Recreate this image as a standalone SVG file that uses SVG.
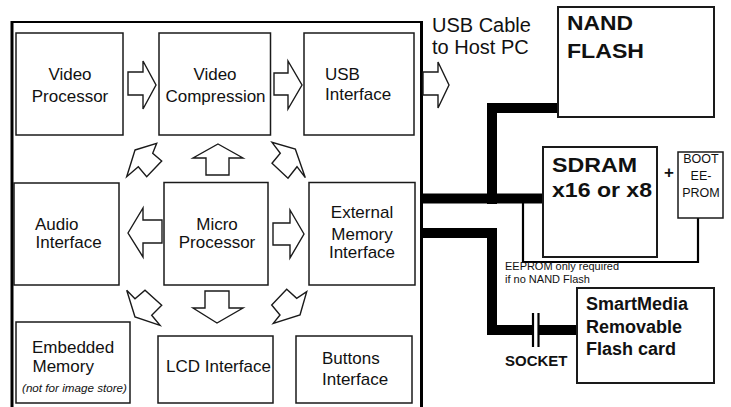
<svg xmlns="http://www.w3.org/2000/svg" width="731" height="407" viewBox="0 0 731 407">
<style>
.bg{fill:#fff}
.box{fill:#fff;stroke:#1a1a1a;stroke-width:1.5}
.arr{fill:#fff;stroke:#1a1a1a;stroke-width:1.4;stroke-linejoin:miter}
.t{font-family:"Liberation Sans",Arial,sans-serif;font-size:17px;fill:#111}
.c{text-anchor:middle}
.b{font-weight:bold}
.bus{fill:none;stroke:#000;stroke-width:10;stroke-linejoin:miter;stroke-linecap:butt}
.thin{fill:none;stroke:#000;stroke-width:2.2}
.frame{fill:none;stroke:#000}
</style>
<rect class="bg" x="0" y="0" width="731" height="407"/>

<g id="frame">
<line class="frame" x1="12" y1="21" x2="12" y2="407" stroke-width="3"/>
<line class="frame" x1="11" y1="22" x2="423" y2="22" stroke-width="2.2"/>
<line class="frame" x1="421.5" y1="21" x2="421.5" y2="407" stroke-width="3"/>
</g>

<g id="connectors">
<path class="bus" d="M558 108 H492 V204"/>
<path class="bus" d="M421 198.5 H543"/>
<path class="bus" d="M421 233 H492 V330 H533"/>
<path class="bus" d="M538 330 H578"/>
<line class="thin" x1="533" y1="313" x2="533" y2="347"/>
<line class="thin" x1="538.5" y1="313" x2="538.5" y2="347"/>
<path class="thin" d="M523 200 V262 H698 V218"/>
<polygon class="arr" points="128,72 143,72 143,61 156,85 143,109 143,95 128,95"/>
<polygon class="arr" points="274,73 288,73 288,61 302,85 288,109 288,95 274,95"/>
<polygon class="arr" points="423,72 438,72 438,62 449,85 438,108 438,95 423,95"/>
<polygon class="arr" points="218,144 243,158 229,158 229,175 206,175 206,158 193,158"/>
<polygon class="arr" points="128,233 143,208 143,220 162,220 162,243 143,243 143,257"/>
<polygon class="arr" points="304,234 290,210 290,223 273,223 273,245 290,245 290,258"/>
<polygon class="arr" points="205,291 229,291 229,308 243,308 217,323 193,308 205,308"/>
<polygon class="arr" points="135,150 156.7,143.3 152.7,153.3 161.7,161 146.7,176.7 138.3,166.7 126.7,176.7"/>
<polygon class="arr" points="295.3,149 305.3,177.7 297,166.7 288,178.3 272,163.3 280.3,153.3 272,142.3"/>
<polygon class="arr" points="135,317 126.7,290.3 135,298.7 145,290.3 161.7,305.3 151.7,315.3 160,325.3"/>
<polygon class="arr" points="300,315 306.7,291.7 296.7,298.3 286.7,289.3 271.7,305 280,315 273.3,323.3"/>
</g>

<g id="video-processor">
<rect class="box" x="16" y="33" width="107" height="102"/>
<text class="t c" x="70" y="80">Video</text>
<text class="t c" x="70" y="102">Processor</text>
</g>
<g id="video-compression">
<rect class="box" x="159" y="33" width="111.5" height="102"/>
<text class="t c" x="215" y="80">Video</text>
<text class="t c" x="215.5" y="102">Compression</text>
</g>
<g id="usb-interface">
<rect class="box" x="304" y="33" width="110" height="102"/>
<text class="t" x="325" y="80">USB</text>
<text class="t" x="325" y="100">Interface</text>
</g>
<g id="usb-cable">
<text class="t" x="432" y="32" style="font-size:20px">USB Cable</text>
<text class="t" x="432" y="54" style="font-size:20px">to Host PC</text>
</g>
<g id="audio-interface">
<rect class="box" x="14" y="183" width="105" height="102"/>
<text class="t" x="35" y="230">Audio</text>
<text class="t" x="35.5" y="248">Interface</text>
</g>
<g id="micro-processor">
<rect class="box" x="164" y="182.5" width="104" height="102.5"/>
<text class="t c" x="217" y="230">Micro</text>
<text class="t c" x="217" y="248">Processor</text>
</g>
<g id="external-memory-interface">
<rect class="box" x="309" y="182.5" width="106" height="102.5"/>
<text class="t c" x="362" y="218">External</text>
<text class="t c" x="362" y="240">Memory</text>
<text class="t c" x="362" y="258">Interface</text>
</g>
<g id="embedded-memory">
<rect class="box" x="16" y="322" width="114" height="81"/>
<text class="t" x="32" y="353">Embedded</text>
<text class="t" x="32.5" y="372">Memory</text>
<text class="t" x="22" y="392" style="font-size:10px;font-style:italic" textLength="105" lengthAdjust="spacingAndGlyphs">(not for image store)</text>
</g>
<g id="lcd-interface">
<rect class="box" x="158" y="336" width="115" height="67"/>
<text class="t" x="166" y="372">LCD Interface</text>
</g>
<g id="buttons-interface">
<rect class="box" x="296" y="336" width="116" height="67"/>
<text class="t" x="322" y="364">Buttons</text>
<text class="t" x="322" y="385">Interface</text>
</g>
<g id="nand-flash">
<rect class="box" x="558" y="7" width="156" height="110" style="stroke-width:2"/>
<text class="t b" x="567" y="29.5" style="font-size:20px" textLength="66" lengthAdjust="spacingAndGlyphs">NAND</text>
<text class="t b" x="567" y="57.5" style="font-size:20px" textLength="77" lengthAdjust="spacingAndGlyphs">FLASH</text>
</g>
<g id="sdram">
<rect class="box" x="543" y="147" width="114" height="110" style="stroke-width:2"/>
<text class="t b" x="552" y="172" style="font-size:20px" textLength="85" lengthAdjust="spacingAndGlyphs">SDRAM</text>
<text class="t b" x="552" y="197" style="font-size:20px" textLength="100" lengthAdjust="spacingAndGlyphs">x16 or x8</text>
</g>
<g id="plus">
<text class="t b c" x="669" y="178" style="font-size:17px">+</text>
</g>
<g id="boot-eeprom">
<rect class="box" x="678" y="152" width="45" height="66"/>
<text class="t c" x="701" y="163" style="font-size:12.5px">BOOT</text>
<text class="t c" x="701" y="180" style="font-size:12.5px">EE-</text>
<text class="t c" x="701" y="197" style="font-size:12.5px">PROM</text>
</g>
<g id="eeprom-note">
<text class="t" x="505" y="270" style="font-size:11px" textLength="114" lengthAdjust="spacingAndGlyphs">EEPROM only required</text>
<text class="t" x="505" y="283" style="font-size:11px" textLength="85" lengthAdjust="spacingAndGlyphs">if no NAND Flash</text>
</g>
<g id="smartmedia">
<rect class="box" x="577" y="288" width="137" height="95" style="stroke-width:2"/>
<text class="t b" x="586" y="310" style="font-size:18px">SmartMedia</text>
<text class="t b" x="586" y="333" style="font-size:18px">Removable</text>
<text class="t b" x="586" y="355" style="font-size:18px">Flash card</text>
</g>
<g id="socket">
<text class="t b" x="505" y="366" style="font-size:15px">SOCKET</text>
</g>
</svg>
